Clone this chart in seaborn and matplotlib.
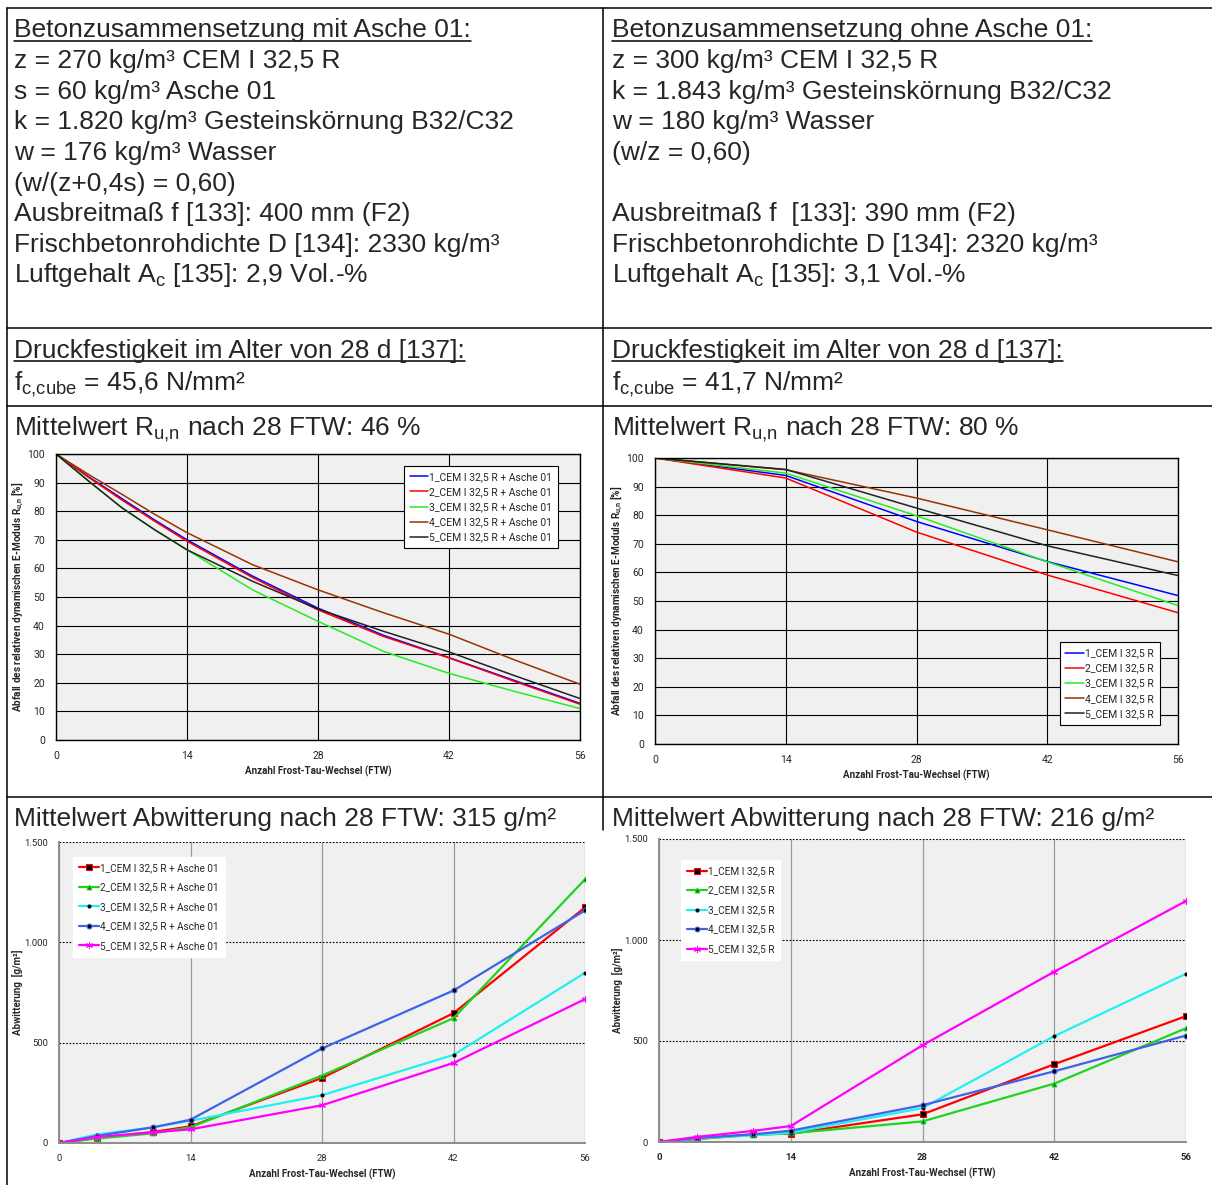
import numpy as np
import pandas as pd
import matplotlib
matplotlib.use("Agg")
import matplotlib.pyplot as plt
from matplotlib.lines import Line2D
import seaborn as sns

W, H = 1212, 1185

# ── Daten ────────────────────────────────────────────────────────────────────
ftw_fine = [0, 3.5, 7, 10.5, 14, 21, 28, 35, 42, 49, 56]
run_mit = {
    "1_CEM I 32,5 R + Asche 01": [100, 92.0, 84.5, 77.0, 70.0, 57.3, 46.1, 36.6, 28.8, 20.8, 12.8],
    "2_CEM I 32,5 R + Asche 01": [100, 91.8, 84.0, 76.6, 69.5, 56.8, 45.5, 36.2, 28.7, 20.5, 12.5],
    "3_CEM I 32,5 R + Asche 01": [100, 90.5, 81.3, 73.6, 66.5, 52.5, 41.5, 31.0, 23.3, 17.0, 11.0],
    "4_CEM I 32,5 R + Asche 01": [100, 92.8, 86.0, 79.0, 72.5, 61.3, 52.5, 44.5, 37.0, 28.0, 19.5],
    "5_CEM I 32,5 R + Asche 01": [100, 90.5, 81.3, 73.6, 66.5, 55.5, 45.8, 38.0, 30.8, 22.5, 14.5],
}
ftw = [0, 14, 28, 42, 56]
run_ohne = {
    "1_CEM I 32,5 R": [100, 93.9, 77.8, 63.8, 51.9],
    "2_CEM I 32,5 R": [100, 93.0, 74.1, 59.1, 45.9],
    "3_CEM I 32,5 R": [100, 94.7, 79.8, 63.7, 48.4],
    "4_CEM I 32,5 R": [100, 95.9, 86.0, 74.9, 63.7],
    "5_CEM I 32,5 R": [100, 96.0, 82.5, 69.3, 58.9],
}
ftw_abw = [0, 4, 10, 14, 28, 42, 56]
abw_mit = {
    "1_CEM I 32,5 R + Asche 01": [0, 25, 55, 83, 324, 647, 1174],
    "2_CEM I 32,5 R + Asche 01": [0, 22, 48, 78, 336, 622, 1314],
    "3_CEM I 32,5 R + Asche 01": [0, 42, 78, 111, 238, 439, 848],
    "4_CEM I 32,5 R + Asche 01": [0, 35, 78, 116, 471, 760, 1159],
    "5_CEM I 32,5 R + Asche 01": [0, 30, 53, 68, 188, 399, 717],
}
abw_ohne = {
    "1_CEM I 32,5 R": [0, 15, 38, 41, 137, 385, 623],
    "2_CEM I 32,5 R": [0, 15, 35, 43, 102, 289, 563],
    "3_CEM I 32,5 R": [0, 18, 33, 46, 168, 524, 833],
    "4_CEM I 32,5 R": [0, 20, 38, 56, 182, 350, 527],
    "5_CEM I 32,5 R": [0, 25, 55, 79, 479, 843, 1193],
}

run_colors = ["#0000ff", "#ff0000", "#22ee22", "#993300", "#222222"]
abw_colors = ["#ff0000", "#1ed41e", "#1ff0f0", "#3e63e6", "#ff00ff"]
abw_markers = [dict(marker="s", ms=4, mfc="black", mec="#ff0000"),
               dict(marker="^", ms=3.5, mfc="#006600", mec="#1ed41e"),
               dict(marker="o", ms=2.2, mfc="black", mec="black"),
               dict(marker="o", ms=3.5, mfc="black", mec="#3e63e6"),
               dict(marker=(6, 2, 0), ms=5, mfc="#ff00ff", mec="#ff00ff")]

links = [
    ("Betonzusammensetzung mit Asche 01:", True),
    ("z = 270 kg/m³ CEM I 32,5 R", False),
    ("s = 60 kg/m³ Asche 01", False),
    ("k = 1.820 kg/m³ Gesteinskörnung B32/C32", False),
    ("w = 176 kg/m³ Wasser", False),
    ("(w/(z+0,4s) = 0,60)", False),
    ("Ausbreitmaß f [133]: 400 mm (F2)", False),
    ("Frischbetonrohdichte D [134]: 2330 kg/m³", False),
    (r"Luftgehalt $\mathregular{A_c}$ [135]: 2,9 Vol.-%", False),
]
rechts = [
    ("Betonzusammensetzung ohne Asche 01:", True),
    ("z = 300 kg/m³ CEM I 32,5 R", False),
    ("k = 1.843 kg/m³ Gesteinskörnung B32/C32", False),
    ("w = 180 kg/m³ Wasser", False),
    ("(w/z = 0,60)", False),
    ("", False),
    ("Ausbreitmaß f  [133]: 390 mm (F2)", False),
    ("Frischbetonrohdichte D [134]: 2320 kg/m³", False),
    (r"Luftgehalt $\mathregular{A_c}$ [135]: 3,1 Vol.-%", False),
]

# ── Layout-Helfer (Pixel -> Figurkoordinaten) ────────────────────────────────
def fx(x):
    return x / W

def fy(y):
    return 1 - y / H

def axes_px(fig, x0, y0, x1, y1):
    return fig.add_axes([fx(x0), fy(y1), (x1 - x0) / W, (y1 - y0) / H])

sns.set_style("white")
plt.rcParams["font.family"] = ["Liberation Sans", "DejaVu Sans"]
CHART_FONT = ["Roboto", "DejaVu Sans"]

fig = plt.figure(figsize=(W / 100, H / 100), dpi=100)

# Tabellenlinien
def hline(y, x0, x1):
    fig.add_artist(Line2D([fx(x0), fx(x1)], [fy(y), fy(y)], color="black", lw=1.1))

def vline(x, y0, y1):
    fig.add_artist(Line2D([fx(x), fx(x)], [fy(y0), fy(y1)], color="black", lw=1.1))

hline(8, 7, 1212)
hline(328, 7, 1212)
hline(406, 7, 1212)
hline(797, 7, 1212)
vline(7, 8, 1185)
vline(603, 8, 830)

# Tabellentext
underlined = []
FS = 19
def put(x, y, s, ul=False):
    t = fig.text(fx(x), fy(y), s, fontsize=FS, va="baseline", ha="left")
    if ul:
        underlined.append((t, y))
    return t

base = [37.5, 68, 98.7, 129.3, 160, 190.5, 221, 251.7, 282.3]
for (s, ul), y in zip(links, base):
    put(14, y, s, ul)
for (s, ul), y in zip(rechts, base):
    if s:
        put(612, y, s, ul)

put(14, 358, "Druckfestigkeit im Alter von 28 d [137]:", True)
put(612, 358, "Druckfestigkeit im Alter von 28 d [137]:", True)
put(14, 390, r"$\mathregular{f_{c{,}cube}}$ = 45,6 N/mm²")
put(612, 390, r"$\mathregular{f_{c{,}cube}}$ = 41,7 N/mm²")
put(14, 435, r"Mittelwert $\mathregular{R_{u{,}n}}$ nach 28 FTW: 46 %")
put(612, 435, r"Mittelwert $\mathregular{R_{u{,}n}}$ nach 28 FTW: 80 %")
put(14, 826, "Mittelwert Abwitterung nach 28 FTW: 315 g/m²")
put(612, 826, "Mittelwert Abwitterung nach 28 FTW: 216 g/m²")

# ── Diagramme R_u,n ──────────────────────────────────────────────────────────
def run_chart(ax, x, data, legend_kw):
    for (name, vals), c in zip(data.items(), run_colors):
        sns.lineplot(x=x, y=vals, ax=ax, color=c, lw=1.1, label=name)
    ax.set_facecolor("#f0f0f0")
    ax.set_xlim(0, 56)
    ax.set_ylim(0, 100)
    ax.set_xticks(ftw)
    ax.set_yticks(range(0, 101, 10))
    ax.grid(True, color="black", lw=0.8)
    ax.set_axisbelow(True)
    for sp in ax.spines.values():
        sp.set_color("black")
        sp.set_linewidth(1.0)
    ax.tick_params(length=0, labelsize=7.5, pad=8)
    for lab in ax.get_xticklabels() + ax.get_yticklabels():
        lab.set_family(CHART_FONT)
    ax.set_xlabel("Anzahl Frost-Tau-Wechsel (FTW)", fontsize=7, fontweight="bold",
                  family=CHART_FONT, labelpad=3)
    ax.set_ylabel(r"Abfall des relativen dynamischen E-Moduls $\mathregular{R_{u{,}n}}$ [%]",
                  fontsize=7.2, fontweight="bold", family=CHART_FONT, labelpad=1)
    leg = ax.legend(frameon=True, fancybox=False, edgecolor="black", framealpha=1,
                    prop={"family": CHART_FONT, "size": 7.5}, handlelength=1.8,
                    handletextpad=0.1, labelspacing=0.5, borderpad=0.55, **legend_kw)
    leg.get_frame().set_linewidth(0.8)

ax1 = axes_px(fig, 56, 454, 580, 740)
run_chart(ax1, ftw_fine, run_mit,
          dict(loc="upper right", bbox_to_anchor=(0.968, 0.976)))
ax2 = axes_px(fig, 655, 458, 1178, 744)
run_chart(ax2, ftw, run_ohne,
          dict(loc="lower right", bbox_to_anchor=(0.975, 0.049)))

# ── Diagramme Abwitterung ────────────────────────────────────────────────────
def abw_chart(ax, data, legend_kw, bold_x=False):
    for (name, vals), c, mk in zip(data.items(), abw_colors, abw_markers):
        sns.lineplot(x=ftw_abw, y=vals, ax=ax, color=c, lw=1.6, label=name, **mk)
    ax.set_facecolor("#f0f0f0")
    ax.set_xlim(0, 56)
    ax.set_ylim(0, 1500)
    ax.set_xticks(ftw)
    ax.set_yticks([0, 500, 1000, 1500])
    ax.set_yticklabels(["0", "500", "1.000", "1.500"])
    ax.xaxis.grid(True, color="#9a9a9a", lw=0.9)
    ax.yaxis.grid(True, color="black", lw=0.8, ls=(0, (1.5, 1.5)))
    ax.set_axisbelow(True)
    for side in ("top", "right"):
        ax.spines[side].set_visible(False)
    for side in ("left", "bottom"):
        ax.spines[side].set_color("#8c8c8c")
        ax.spines[side].set_linewidth(1.4)
    ax.tick_params(length=0, labelsize=6.8, pad=8)
    for lab in ax.get_xticklabels() + ax.get_yticklabels():
        lab.set_family(CHART_FONT)
    if bold_x:
        for lab in ax.get_xticklabels():
            lab.set_fontweight("bold")
    ax.set_xlabel("Anzahl Frost-Tau-Wechsel (FTW)", fontsize=7, fontweight="bold",
                  family=CHART_FONT, labelpad=4)
    ax.set_ylabel("Abwitterung  [g/m²]", fontsize=7, fontweight="bold",
                  family=CHART_FONT, labelpad=1)
    ax.legend(frameon=True, fancybox=False, edgecolor="white", facecolor="white",
              framealpha=1, prop={"family": CHART_FONT, "size": 7.2},
              handlelength=2.0, handletextpad=0.1, labelspacing=0.95,
              borderpad=0.6, numpoints=1, **legend_kw)

ax3 = axes_px(fig, 59, 842, 585, 1143)
abw_chart(ax3, abw_mit, dict(loc="upper left", bbox_to_anchor=(0.017, 0.967)))
ax4 = axes_px(fig, 659, 839, 1186, 1142)
abw_chart(ax4, abw_ohne, dict(loc="upper left", bbox_to_anchor=(0.032, 0.947)), bold_x=True)

# Unterstreichungen
fig.canvas.draw()
r = fig.canvas.get_renderer()
for t, y in underlined:
    bb = t.get_window_extent(r)
    hline(y + 3, bb.x0, bb.x1)

fig.savefig("out.png", dpi=100)
